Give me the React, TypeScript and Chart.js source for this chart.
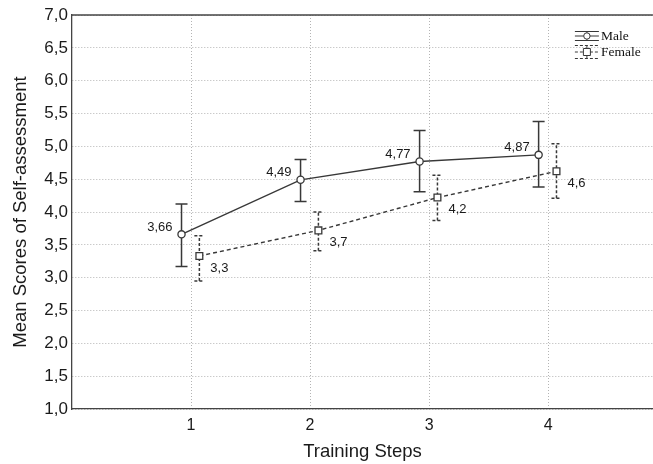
import React, { useEffect, useRef } from "react";
import { Chart, registerables } from "chart.js";

Chart.register(...registerables);

const steps = [1, 2, 3, 4];
const stepTicks = [1, 2, 3, 4];
const yTickStep = 0.5;

const maleMeans = [3.66, 4.49, 4.77, 4.87];
const maleLow = [3.17, 4.16, 4.31, 4.38];
const maleHigh = [4.12, 4.8, 5.24, 5.38];
const maleLabels = ["3,66", "4,49", "4,77", "4,87"];

const femaleMeans = [3.33, 3.72, 4.22, 4.62];
const femaleLow = [2.95, 3.41, 3.87, 4.21];
const femaleHigh = [3.64, 4.0, 4.56, 5.04];
const femaleLabels = ["3,3", "3,7", "4,2", "4,6"];

const MALE_OFFSET = -0.08;
const FEMALE_OFFSET = 0.07;

const SANS = "'Liberation Sans', Arial, sans-serif";
const SERIF = "'Liberation Serif', 'Times New Roman', serif";
const INK = "#383838";
const GRID = "#b4b4b4";
const VIEW_W = 653;

export default function App() {
  const ref = useRef<HTMLCanvasElement | null>(null);

  useEffect(() => {
    if (!ref.current) return;

    const errorBars = {
      id: "errorBars",
      beforeDatasetsDraw(chart: any) {
        const ctx = chart.ctx;
        const xs = chart.scales.x;
        const ys = chart.scales.y;
        const draw = (offset: number, low: number[], high: number[], dash: number[], cap: number) => {
          ctx.save();
          ctx.strokeStyle = INK;
          ctx.lineWidth = 1.5;
          ctx.setLineDash(dash);
          steps.forEach((s, i) => {
            const px = xs.getPixelForValue(s + offset);
            const pl = ys.getPixelForValue(low[i]);
            const ph = ys.getPixelForValue(high[i]);
            ctx.beginPath();
            ctx.moveTo(px, pl);
            ctx.lineTo(px, ph);
            ctx.moveTo(px - cap, pl);
            ctx.lineTo(px + cap, pl);
            ctx.moveTo(px - cap, ph);
            ctx.lineTo(px + cap, ph);
            ctx.stroke();
          });
          ctx.restore();
        };
        draw(MALE_OFFSET, maleLow, maleHigh, [], 6);
        draw(FEMALE_OFFSET, femaleLow, femaleHigh, [3, 2], 5);
      },
      afterDatasetsDraw(chart: any) {
        const ctx = chart.ctx;
        const xs = chart.scales.x;
        const ys = chart.scales.y;
        ctx.save();
        ctx.fillStyle = "#1a1a1a";
        ctx.font = `13px ${SANS}`;
        ctx.textBaseline = "middle";
        ctx.textAlign = "right";
        steps.forEach((s, i) => {
          ctx.fillText(maleLabels[i], xs.getPixelForValue(s + MALE_OFFSET) - 9, ys.getPixelForValue(maleMeans[i]) - 7);
        });
        ctx.textAlign = "left";
        steps.forEach((s, i) => {
          ctx.fillText(femaleLabels[i], xs.getPixelForValue(s + FEMALE_OFFSET) + 11, ys.getPixelForValue(femaleMeans[i]) + 12);
        });
        // top frame line
        const { left, right, top } = chart.chartArea;
        ctx.strokeStyle = "#444";
        ctx.lineWidth = 1.3;
        ctx.beginPath();
        ctx.moveTo(left, top);
        ctx.lineTo(right, top);
        ctx.stroke();

        // legend (anchored to the visible right edge)
        const edge = Math.min(right, VIEW_W);
        const lx0 = edge - 78;
        const lx1 = edge - 54;
        const lxm = (lx0 + lx1) / 2;
        const tx = edge - 52;
        const rows = [
          { label: "Male", y: 36, half: 4.5, dash: [] as number[], shape: "circle" },
          { label: "Female", y: 52, half: 6.5, dash: [3, 2], shape: "rect" },
        ];
        rows.forEach((r) => {
          ctx.strokeStyle = INK;
          ctx.lineWidth = 1;
          ctx.setLineDash(r.dash);
          ctx.beginPath();
          ctx.moveTo(lx0, r.y - r.half);
          ctx.lineTo(lx1, r.y - r.half);
          ctx.moveTo(lx0, r.y);
          ctx.lineTo(lx1, r.y);
          ctx.moveTo(lx0, r.y + r.half);
          ctx.lineTo(lx1, r.y + r.half);
          ctx.moveTo(lxm, r.y - r.half);
          ctx.lineTo(lxm, r.y + r.half);
          ctx.stroke();
          ctx.setLineDash([]);
          ctx.fillStyle = "#fff";
          ctx.beginPath();
          if (r.shape === "circle") {
            ctx.arc(lxm, r.y, 3.2, 0, Math.PI * 2);
          } else {
            ctx.rect(lxm - 3.5, r.y - 3.5, 7, 7);
          }
          ctx.fill();
          ctx.stroke();
          ctx.fillStyle = "#111";
          ctx.font = `13.5px ${SERIF}`;
          ctx.textAlign = "left";
          ctx.textBaseline = "middle";
          ctx.fillText(r.label, tx, r.y);
        });
        ctx.restore();
      },
    };

    const chart = new Chart(ref.current, {
      type: "line",
      data: {
        datasets: [
          {
            label: "Male",
            data: steps.map((s, i) => ({ x: s + MALE_OFFSET, y: maleMeans[i] })),
            borderColor: INK,
            borderWidth: 1.4,
            pointStyle: "circle",
            pointRadius: 3.6,
            pointBorderWidth: 1.3,
            pointBackgroundColor: "#fff",
            pointBorderColor: INK,
            tension: 0,
          },
          {
            label: "Female",
            data: steps.map((s, i) => ({ x: s + FEMALE_OFFSET, y: femaleMeans[i] })),
            borderColor: INK,
            borderWidth: 1.4,
            borderDash: [4, 3],
            pointStyle: "rect",
            pointRadius: 4.8,
            pointBorderWidth: 1.3,
            pointBackgroundColor: "#fff",
            pointBorderColor: INK,
            tension: 0,
          },
        ],
      },
      options: {
        responsive: false,
        animation: false,
        layout: { padding: { top: 15, right: 0, left: 0, bottom: 0 } },
        plugins: { legend: { display: false }, tooltip: { enabled: false } },
        scales: {
          x: {
            type: "linear",
            min: 0,
            max: 4.88,
            afterBuildTicks: (scale: any) => {
              scale.ticks = stepTicks.map((v) => ({ value: v }));
            },
            afterFit: (scale: any) => {
              scale.height = 55;
            },
            grid: { color: GRID, drawTicks: false, lineWidth: 1 },
            border: { display: true, color: "#444", width: 1.3, dash: [1, 2] },
            ticks: {
              padding: 7,
              color: "#1a1a1a",
              font: { family: SANS, size: 16 },
              callback: (v: any) => String(v),
            },
            title: {
              display: true,
              text: "Training Steps",
              color: "#1a1a1a",
              font: { family: SANS, size: 18.5 },
              padding: { top: 0, bottom: 1 },
            },
          },
          y: {
            min: 1,
            max: 7,
            afterFit: (scale: any) => {
              scale.width = 72;
            },
            grid: { color: GRID, drawTicks: false, lineWidth: 1 },
            border: { display: true, color: "#444", width: 1.3, dash: [1, 2] },
            ticks: {
              stepSize: yTickStep,
              padding: 4,
              color: "#1a1a1a",
              font: { family: SANS, size: 17 },
              callback: (v: any) => Number(v).toFixed(1).replace(".", ","),
            },
            title: {
              display: true,
              text: "Mean Scores of Self-assessment",
              color: "#1a1a1a",
              font: { family: SANS, size: 18.5 },
              padding: { top: 10, bottom: 0 },
            },
          },
        },
      },
      plugins: [errorBars],
    } as any);

    return () => chart.destroy();
  }, []);

  return (
    <div
      style={{
        position: "fixed",
        left: 0,
        top: 0,
        width: VIEW_W,
        height: 464,
        overflow: "hidden",
        background: "#fff",
      }}
    >
      <canvas ref={ref} width={659} height={464} style={{ display: "block" }} />
    </div>
  );
}
